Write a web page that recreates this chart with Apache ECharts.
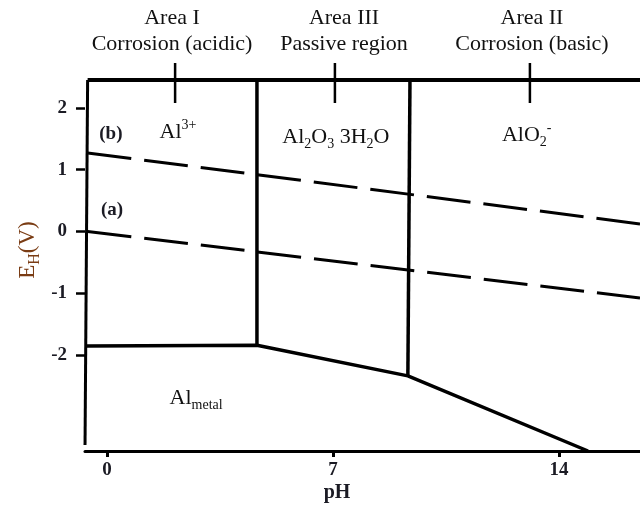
<!DOCTYPE html>
<html><head><meta charset="utf-8">
<script src="https://cdn.jsdelivr.net/npm/echarts@6/dist/echarts.min.js"></script>
<style>html,body{margin:0;padding:0;background:#fff}#c{width:640px;height:512px}</style>
</head><body><div id="c"></div>
<script>
// ---- data (pH, E_H in V) ----
const xTickValues = [0, 7, 14];
const yTickValues = [-2, -1, 0, 1, 2];
const leftEdge = [[-0.6, 2.455], [-0.68, -3.46]];
const topEdge = [[-0.6, 2.455], [16.51, 2.455]];
const acidPassiveBoundary = [[4.645, 2.455], [4.645, -1.845]];
const passiveBasicBoundary = [[9.385, 2.455], [9.32, -2.34]];
const metalBoundary = [[-0.64, -1.855], [4.645, -1.845], [9.32, -2.34], [14.9, -3.558]];
const lineB = [[-0.6, 1.272], [16.51, 0.122]];
const lineA = [[-0.6, 0.0], [16.51, -1.078]];
const areaTickPH = [2.11, 7.06, 13.1];
const areaTickE = [2.73, 2.08];
const areaTitles = [['Area I', 'Corrosion (acidic)'], ['Area III', 'Passive region'], ['Area II', 'Corrosion (basic)']];
const speciesText = ['{m|Al}{sup|3+}', '{m|Al}{s|2}{m|O}{s|3}{m| 3H}{s|2}{m|O}', '{m|AlO}{s|2}{sup|-}', '{m|Al}{s|metal}', '{b|(b)}', '{b|(a)}'];
const speciesPos = [[2.2, 1.6], [7.09, 1.53], [13.0, 1.565], [2.76, -2.70], [0.12, 1.58], [0.155, 0.35]];

// ---- layout / style ----
const serif = "'Liberation Serif', 'DejaVu Serif', serif";
const ink = '#1b1b24';
const titleCentersPx = [172, 344, 532];

function seg(data, width, type) {
  return {type: 'line', data: data, symbol: 'none', silent: true, animation: false, z: 3,
    lineStyle: {color: '#000', width: width, type: type || 'solid', cap: 'butt'}};
}

const series = [
  seg(leftEdge, 3),
  seg(topEdge, 4),
  seg(acidPassiveBoundary, 3.5),
  seg(passiveBasicBoundary, 3.5),
  seg(metalBoundary, 3.5),
  seg(lineB, 3, [44, 13]),
  seg(lineA, 3, [44, 13])
];
areaTickPH.forEach(function (p) { series.push(seg([[p, areaTickE[0]], [p, areaTickE[1]]], 2.5)); });

const chart = echarts.init(document.getElementById('c'));
chart.setOption({
  animation: false,
  backgroundColor: '#fff',
  grid: {left: 85, right: 0, top: 62, bottom: 61},
  xAxis: {
    type: 'value', min: -0.681, max: 16.51,
    axisLine: {show: true, onZero: false, lineStyle: {color: '#000', width: 3}},
    axisTick: {show: true, customValues: xTickValues, length: 6, lineStyle: {color: '#000', width: 3}},
    axisLabel: {show: true, customValues: xTickValues, margin: 10, fontSize: 19, fontWeight: 'bold', fontFamily: serif, color: ink},
    splitLine: {show: false}
  },
  yAxis: {
    type: 'value', min: -3.558, max: 2.746,
    axisLine: {show: false, onZero: false},
    axisTick: {show: true, customValues: yTickValues, length: 9, lineStyle: {color: '#000', width: 2.5}},
    axisLabel: {show: true, customValues: yTickValues, margin: 18, fontSize: 19, fontWeight: 'bold', fontFamily: serif, color: ink},
    splitLine: {show: false}
  },
  series: series
});

const graphics = [];
const richSpecies = {
  m: {fontSize: 22, fontFamily: serif, fill: '#111', lineHeight: 28},
  s: {fontSize: 14, fontFamily: serif, fill: '#111', lineHeight: 14, verticalAlign: 'bottom'},
  sup: {fontSize: 14, fontFamily: serif, fill: '#111', lineHeight: 16, verticalAlign: 'top'},
  b: {fontSize: 19, fontFamily: serif, fontWeight: 'bold', fill: ink, lineHeight: 24}
};
speciesPos.forEach(function (p, i) {
  const px = chart.convertToPixel({gridIndex: 0}, p);
  graphics.push({type: 'text', x: px[0], y: px[1], silent: true, z: 10,
    style: {text: speciesText[i], align: 'center', verticalAlign: 'middle', rich: richSpecies}});
});
areaTitles.forEach(function (t, i) {
  graphics.push({type: 'text', x: titleCentersPx[i], y: 18, silent: true,
    style: {text: t[0], fill: '#111', font: '22px ' + serif, align: 'center', verticalAlign: 'middle'}});
  graphics.push({type: 'text', x: titleCentersPx[i], y: 44, silent: true,
    style: {text: t[1], fill: '#111', font: '22px ' + serif, align: 'center', verticalAlign: 'middle'}});
});
graphics.push({type: 'text', x: 337, y: 493, silent: true,
  style: {text: 'pH', fill: ink, font: 'bold 20px ' + serif, align: 'center', verticalAlign: 'middle'}});
const nameCol = '#7a3c14';
graphics.push({type: 'text', x: 28, y: 250, rotation: Math.PI / 2, silent: true,
  style: {text: '{e|E}{h|H}{e|(V)}', align: 'center', verticalAlign: 'middle', fill: nameCol,
    rich: {
      e: {fontSize: 23, fontFamily: serif, fill: nameCol, lineHeight: 30},
      h: {fontSize: 16, fontFamily: serif, fill: nameCol, lineHeight: 16, verticalAlign: 'bottom'}
    }}});
chart.setOption({graphic: graphics});
</script>
</body></html>
